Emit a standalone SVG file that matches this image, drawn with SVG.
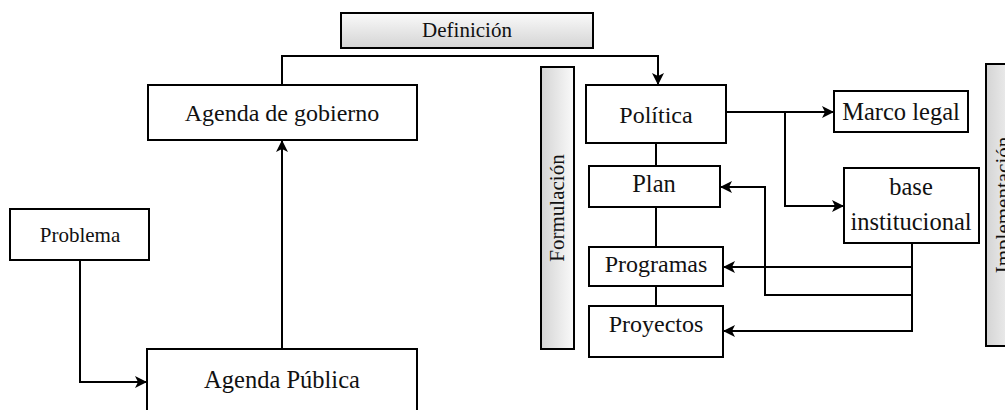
<svg xmlns="http://www.w3.org/2000/svg" width="1005" height="410" viewBox="0 0 1005 410">
<style>
.box{fill:#fff;stroke:#000;stroke-width:2}
.bar{fill:url(#g);stroke:#000;stroke-width:2}
.barv{fill:url(#gv);stroke:#000;stroke-width:2}
.t{font-family:'Liberation Serif',serif;fill:#111;text-anchor:middle}
.c{fill:none;stroke:#000;stroke-width:2}
</style>
<defs>
<linearGradient id="g" x1="0" y1="0" x2="0" y2="1"><stop offset="0" stop-color="#fafafa"/><stop offset="1" stop-color="#d4d4d4"/></linearGradient>
<linearGradient id="gv" x1="1" y1="0" x2="0" y2="0"><stop offset="0" stop-color="#fafafa"/><stop offset="1" stop-color="#d4d4d4"/></linearGradient>
<marker id="a" viewBox="0 0 12 12" refX="11" refY="6" markerWidth="12" markerHeight="12" markerUnits="userSpaceOnUse" orient="auto">
<path d="M0,0 L12,6 L0,12 L3,6 Z" fill="#000"/>
</marker>
</defs>
<g id="connectors">
<path class="c" d="M282,85 V56 H658 V84" marker-end="url(#a)"/>
<path class="c" d="M282,349 V141" marker-end="url(#a)"/>
<path class="c" d="M80,260 V382 H146" marker-end="url(#a)"/>
<path class="c" d="M726,112 H833" marker-end="url(#a)"/>
<path class="c" d="M785,112 V206 H843" marker-end="url(#a)"/>
<path class="c" d="M656,143 V166 M656,207 V247 M656,286 V306"/>
<path class="c" d="M912,243 V331 H724" marker-end="url(#a)"/>
<path class="c" d="M912,267 H724" marker-end="url(#a)"/>
<path class="c" d="M912,295 H765 V187 H721" marker-end="url(#a)"/>
</g>
<g id="definicion"><rect class="bar" x="341" y="13" width="252" height="35"/><text class="t" x="467" y="37" font-size="21">Definición</text></g>
<g id="agenda-gobierno"><rect class="box" x="148" y="85" width="269" height="55"/><text class="t" x="282" y="121" font-size="24">Agenda de gobierno</text></g>
<g id="problema"><rect class="box" x="10" y="209" width="139" height="51"/><text class="t" x="80" y="242" font-size="21">Problema</text></g>
<g id="agenda-publica"><rect class="box" x="147" y="349" width="270" height="70"/><text class="t" x="282" y="388" font-size="24.5">Agenda Pública</text></g>
<g id="formulacion"><rect class="barv" x="541" y="67" width="33" height="282"/><text class="t" transform="translate(564,208) rotate(-90)" font-size="21">Formulación</text></g>
<g id="politica"><rect class="box" x="586" y="85" width="140" height="58"/><text class="t" x="656" y="123" font-size="24">Política</text></g>
<g id="marco-legal"><rect class="box" x="834" y="91" width="134" height="41"/><text class="t" x="901" y="120" font-size="24.5">Marco legal</text></g>
<g id="base-institucional"><rect class="box" x="844" y="168" width="135" height="75"/><text class="t" x="911" y="195" font-size="24.5">base</text><text class="t" x="911" y="230" font-size="24.5">institucional</text></g>
<g id="plan"><rect class="box" x="589" y="166" width="131" height="41"/><text class="t" x="654" y="192" font-size="24.5">Plan</text></g>
<g id="programas"><rect class="box" x="589" y="247" width="134" height="39"/><text class="t" x="656" y="272" font-size="24">Programas</text></g>
<g id="proyectos"><rect class="box" x="589" y="306" width="134" height="51"/><text class="t" x="656" y="332" font-size="24">Proyectos</text></g>
<g id="implementacion"><rect class="barv" x="986" y="64" width="36" height="282"/><text class="t" transform="translate(1010,205) rotate(-90)" font-size="21">Implementación</text></g>
</svg>
